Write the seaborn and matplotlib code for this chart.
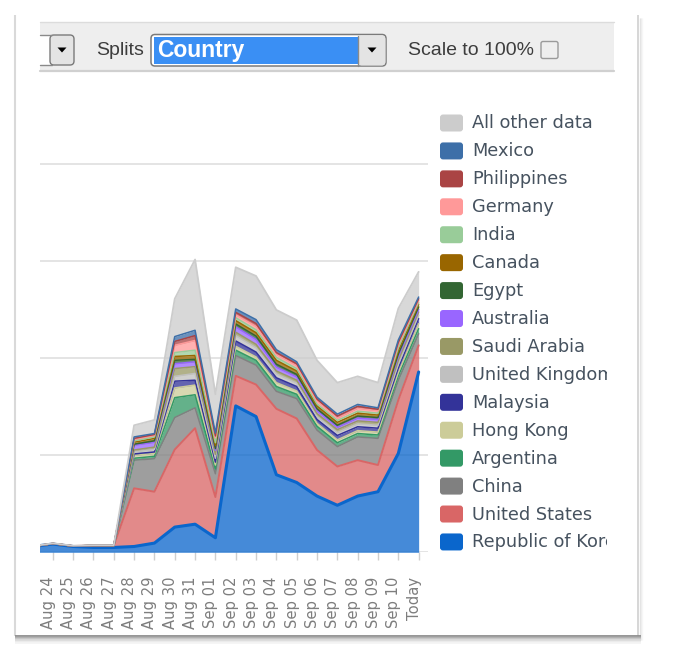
import numpy as np
import pandas as pd
import matplotlib
matplotlib.use("Agg")
import matplotlib.pyplot as plt
import seaborn as sns
from matplotlib.patches import Rectangle, FancyBboxPatch, Polygon

# ---------------- data ----------------
dates = ["Aug 23", "Aug 24", "Aug 25", "Aug 26", "Aug 27", "Aug 28", "Aug 29", "Aug 30",
         "Aug 31", "Sep 01", "Sep 02", "Sep 03", "Sep 04", "Sep 05", "Sep 06", "Sep 07",
         "Sep 08", "Sep 09", "Sep 10", "Today"]
tick_labels = dates[1:]

korea = [6, 8.5, 6, 5, 5, 6, 9.5, 26, 29, 15, 151, 140, 80, 72, 58, 48.5, 58, 62.5, 102, 186]
united_states = [0, 0.5, 0.5, 2, 2, 60, 53, 80, 99, 42, 31, 33, 68, 66, 47.5, 40, 37, 27.5, 55, 27.5]
china = [0, 0, 0, 0, 0, 29, 34, 33, 21, 24, 21, 20, 18, 20.5, 20.5, 20.5, 24, 27.5, 20.5, 12]
argentina = [0, 0, 0, 0, 0, 2, 2.5, 20.5, 13.5, 5, 5.5, 5, 5, 4.5, 4, 4, 3.5, 3.5, 4.5, 5.2]
hong_kong = [0, 0, 0, 0, 0, 3, 3, 10, 10, 4, 4, 3.5, 4, 3.5, 3, 3, 3, 3, 3.5, 5.2]
malaysia = [0, 0, 0, 0, 0, 1.5, 1.5, 7, 5, 3, 5.5, 5, 5, 4.5, 4, 4.5, 4, 4, 4.5, 5.2]
united_kingdom = [0, 0, 0, 0, 0, 2, 2.5, 5, 7, 4, 5.5, 4.5, 4, 3.5, 3, 3, 3, 3, 4, 3.4]
saudi_arabia = [0, 0, 0, 0, 0, 2, 2.5, 8, 7, 4, 3.5, 3.5, 3, 3, 3, 3, 3, 3, 4, 3.4]
australia = [0, 0, 0, 0, 0, 5, 5, 5, 5, 4, 5.5, 5, 4, 3.5, 3, 2.5, 3, 3, 4, 2.5]
egypt = [0, 0, 0, 0, 0, 1, 1.5, 3.5, 2.5, 2, 3, 3.5, 3, 2.5, 2, 2, 2, 2, 2.5, 2.7]
canada = [0, 0, 0, 0, 0, 2, 2.5, 4, 4, 3, 3.5, 3.5, 4, 3.5, 3, 3, 3, 2.5, 3.5, 2.8]
india = [0, 0, 0, 0, 0, 1.5, 1.5, 4, 5.5, 3, 3, 3, 3, 2.5, 2, 2, 2, 2, 3, 2]
germany = [0, 0, 0, 0, 0, 1.5, 1.5, 7.5, 10, 5, 3, 3.5, 3, 3, 3, 2.5, 3, 2.5, 3.5, 2]
philippines = [0, 0, 0, 0, 0, 1, 1, 4, 5, 2, 2.5, 3, 2, 2, 2, 2, 2, 1.5, 2, 1.7]
mexico = [0, 0, 0, 0, 0, 1.5, 1, 5, 5.5, 3, 3.5, 4, 3, 2, 2, 2, 2, 1.5, 2.5, 1.7]
all_other = [0.3, 0.3, 0.3, 0.3, 0.3, 12, 14, 39, 73, 40, 43, 45, 41, 43, 38, 32.5, 29, 26, 32.5, 26]

series_names = ["Republic of Korea", "United States", "China", "Argentina", "Hong Kong",
                "Malaysia", "United Kingdom", "Saudi Arabia", "Australia", "Egypt", "Canada",
                "India", "Germany", "Philippines", "Mexico", "All other data"]
series_values = [korea, united_states, china, argentina, hong_kong, malaysia, united_kingdom,
                 saudi_arabia, australia, egypt, canada, india, germany, philippines, mexico,
                 all_other]
series_colors = ["#0a66cc", "#d96666", "#808080", "#339966", "#cccc99", "#333399", "#c0c0c0",
                 "#999966", "#9966ff", "#336633", "#996600", "#99cc99", "#ff9999", "#aa4444",
                 "#3d6fa8", "#cccccc"]

# ---------------- figure ----------------
sns.set_theme(style="white")
plt.rcParams["font.family"] = ["DejaVu Sans"]

W, H = 674, 672
fig = plt.figure(figsize=(W / 100, H / 100), dpi=100)
fig.patch.set_facecolor("white")

# pixel overlay axes for the UI chrome and legend
bg = fig.add_axes([0, 0, 1, 1], zorder=0)
bg.set_xlim(0, W)
bg.set_ylim(H, 0)
bg.axis("off")

# panel border & shadow
bg.plot([15, 15], [15, 636], color="#d9d9d9", lw=1.5, solid_capstyle="butt")
bg.plot([638, 638], [15, 636], color="#cfcfcf", lw=1.2, solid_capstyle="butt")
for k, c in enumerate(["#e2e2e2", "#ededed", "#f6f6f6"]):
    bg.plot([639.5 + k, 639.5 + k], [18, 640], color=c, lw=1, solid_capstyle="butt")
for k, c in enumerate(["#8c8c8c", "#9f9f9f", "#b3b3b3", "#c8c8c8", "#dadada", "#e9e9e9", "#f4f4f4"]):
    bg.plot([15, 641], [635.5 + k * 1.2, 635.5 + k * 1.2], color=c, lw=1.3, solid_capstyle="butt")

# toolbar
bg.add_patch(Rectangle((40, 22), 574, 49, fc="#eeeeee", ec="none"))
bg.plot([40, 614], [22, 22], color="#dcdcdc", lw=1)
bg.plot([40, 614], [71, 71], color="#d0d0d0", lw=1.6)

# left dropdown stub
bg.add_patch(Rectangle((40, 35), 12, 30, fc="white", ec="none"))
bg.plot([40, 52], [35, 35], color="#8a8a8a", lw=1)
bg.plot([40, 52], [65, 65], color="#8a8a8a", lw=1)
bg.add_patch(FancyBboxPatch((50, 35), 24, 30, boxstyle="round,pad=0,rounding_size=4",
                            fc="#e4e4e4", ec="#7a7a7a", lw=1))
bg.add_patch(Polygon([[57.5, 47.5], [66.5, 47.5], [62, 52.5]], closed=True, fc="black", ec="none"))

bg.text(96, 50.5, "Splits", fontsize=14, color="#3d3d3d", va="center", ha="left",
        family=["Liberation Sans", "DejaVu Sans"])

# Country select
bg.add_patch(FancyBboxPatch((151, 34.5), 235, 31.5, boxstyle="round,pad=0,rounding_size=4",
                            fc="white", ec="#7a7a7a", lw=1.1))
bg.add_patch(Rectangle((153.5, 37), 204, 27, fc="#3a8ff4", ec="none"))
bg.add_patch(FancyBboxPatch((358, 35.5), 27.5, 30, boxstyle="round,pad=0,rounding_size=4",
                            fc="#e4e4e4", ec="none"))
bg.plot([358, 358], [35.5, 65.5], color="#8a8a8a", lw=1)
bg.add_patch(Polygon([[367.5, 47.5], [376.5, 47.5], [372, 52.5]], closed=True, fc="black", ec="none"))
bg.text(157, 50.5, "Country", fontsize=16.5, fontweight="bold", color="white", va="center",
        ha="left", family=["Liberation Sans", "DejaVu Sans"])

bg.text(408, 50.5, "Scale to 100%", fontsize=14, color="#3d3d3d", va="center", ha="left",
        family=["Liberation Sans", "DejaVu Sans"])
bg.add_patch(FancyBboxPatch((541, 41.5), 17, 17, boxstyle="round,pad=0,rounding_size=2",
                            fc="#eeeeee", ec="#9a9a9a", lw=1))

# legend (top entry first)
clip_rect = Rectangle((430, 100), 177, 470, transform=bg.transData)
legend_order = list(range(len(series_names)))[::-1]
for row, si in enumerate(legend_order):
    cy = 123 + row * 27.93
    bg.add_patch(FancyBboxPatch((440, cy - 8.5), 23, 17, boxstyle="round,pad=0,rounding_size=3",
                                fc=series_colors[si], ec="none"))
    t = bg.text(472, cy + 0.5, series_names[si], fontsize=12.8, color="#46525f", va="center",
                ha="left", clip_on=True)
    t.set_clip_path(clip_rect)

# ---------------- chart ----------------
ax_left, ax_right = 40, 428
ax_bottom, ax_top = 552.3, 116
ax = fig.add_axes([ax_left / W, (H - ax_bottom) / H, (ax_right - ax_left) / W,
                   (ax_bottom - ax_top) / H], zorder=2)
ax.patch.set_alpha(0)

x = np.arange(-1, len(dates) - 1)
df = pd.DataFrame({n: v for n, v in zip(series_names, series_values)}, index=x)
cum = df.cumsum(axis=1)

ax.set_yticks([0, 100, 200, 300, 400])
ax.yaxis.grid(True, color="#dcdcdc", lw=1.1)
ax.set_axisbelow(True)

prev = np.zeros(len(x))
for name, col in zip(series_names, series_colors):
    top = cum[name].values
    ax.fill_between(x, prev, top, color=col, alpha=0.76, lw=0, zorder=2)
    prev = top

line_widths = {"Republic of Korea": 2.2, "United States": 1.4, "All other data": 1.3}
for name, col in zip(series_names, series_colors):
    sns.lineplot(x=x, y=cum[name].values, ax=ax, color=col, linewidth=line_widths.get(name, 1.1),
                 legend=False, sort=False, estimator=None, zorder=3)

ax.set_xlim(-0.63, 18.46)
ax.set_ylim(0, 450)
for s in ax.spines.values():
    s.set_visible(False)

ax.set_xticks(np.arange(0, len(tick_labels)))
ax.set_xticklabels(tick_labels, rotation=90, rotation_mode="anchor", ha="right", va="baseline",
                   fontsize=10.6, color="#7d7d7d")
ax.tick_params(axis="x", bottom=True, length=6, width=1, color="#cfcfcf", pad=11.5)
ax.tick_params(axis="y", left=False, labelleft=False)
ax.set_xlabel("")
ax.set_ylabel("")

fig.savefig("out.png", dpi=100, facecolor="white")
